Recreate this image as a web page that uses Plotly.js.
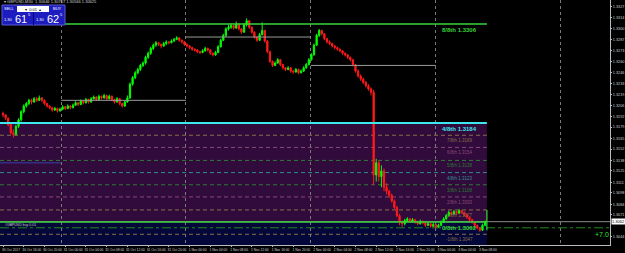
<!DOCTYPE html>
<html><head><meta charset="utf-8">
<script src="https://cdn.plot.ly/plotly-3.0.1.min.js"></script>
<style>html,body{margin:0;padding:0;background:#000;}#c{width:625px;height:253px;}</style>
</head><body><div id="c"></div>
<script>
const barOpen=[1.3196,1.3194,1.3190,1.3182,1.3172,1.3170,1.3180,1.3188,1.3198,1.3205,
1.3208,1.3212,1.3210,1.3214,1.3212,1.3215,1.3212,1.3208,1.3205,1.3203,
1.3200,1.3202,1.3199,1.3201,1.3204,1.3202,1.3205,1.3203,1.3206,1.3209,
1.3207,1.3211,1.3209,1.3213,1.3210,1.3214,1.3216,1.3213,1.3217,1.3215,
1.3218,1.3214,1.3217,1.3213,1.3210,1.3214,1.3208,1.3205,1.3210,1.3215,
1.3232,1.3240,1.3246,1.3250,1.3255,1.3258,1.3265,1.3270,1.3276,1.3280,
1.3283,1.3281,1.3279,1.3282,1.3284,1.3283,1.3285,1.3287,1.3289,1.3286,
1.3284,1.3281,1.3279,1.3277,1.3275,1.3274,1.3272,1.3271,1.3273,1.3276,
1.3274,1.3270,1.3268,1.3271,1.3278,1.3286,1.3292,1.3300,1.3302,1.3304,
1.3301,1.3306,1.3300,1.3296,1.3305,1.3310,1.3302,1.3296,1.3290,1.3286,
1.3293,1.3298,1.3285,1.3272,1.3260,1.3255,1.3258,1.3262,1.3256,1.3252,
1.3250,1.3252,1.3248,1.3247,1.3250,1.3246,1.3248,1.3252,1.3256,1.3262,
1.3268,1.3280,1.3292,1.3298,1.3294,1.3288,1.3284,1.3282,1.3279,1.3277,
1.3275,1.3273,1.3270,1.3268,1.3265,1.3262,1.3256,1.3248,1.3242,1.3238,
1.3234,1.3230,1.3226,1.3222,1.3120,1.3135,1.3118,1.3125,1.3105,1.3100,
1.3095,1.3088,1.3080,1.3070,1.3062,1.3060,1.3064,1.3066,1.3063,1.3065,
1.3062,1.3060,1.3063,1.3061,1.3058,1.3060,1.3057,1.3059,1.3056,1.3058,
1.3062,1.3066,1.3070,1.3074,1.3072,1.3075,1.3073,1.3076,1.3074,1.3071,
1.3068,1.3065,1.3062,1.3058,1.3055,1.3052,1.3058];
const barHigh=[1.3198,1.3195,1.3191,1.3184,1.3176,1.3182,1.3190,1.3200,1.3207,1.3210,
1.3214,1.3214,1.3216,1.3216,1.3218,1.3216,1.3213,1.3209,1.3206,1.3204,
1.3204,1.3203,1.3203,1.3206,1.3205,1.3207,1.3206,1.3208,1.3211,1.3210,
1.3213,1.3212,1.3215,1.3214,1.3216,1.3218,1.3217,1.3219,1.3218,1.3220,
1.3219,1.3219,1.3218,1.3214,1.3216,1.3215,1.3209,1.3212,1.3218,1.3234,
1.3242,1.3248,1.3252,1.3257,1.3260,1.3267,1.3272,1.3278,1.3282,1.3285,
1.3284,1.3282,1.3284,1.3286,1.3285,1.3287,1.3289,1.3291,1.3290,1.3287,
1.3285,1.3282,1.3280,1.3278,1.3276,1.3275,1.3273,1.3275,1.3278,1.3277,
1.3275,1.3271,1.3273,1.3280,1.3288,1.3294,1.3302,1.3305,1.3307,1.3305,
1.3309,1.3307,1.3301,1.3307,1.3313,1.3311,1.3303,1.3297,1.3291,1.3295,
1.3308,1.3299,1.3286,1.3273,1.3261,1.3260,1.3264,1.3263,1.3257,1.3253,
1.3254,1.3253,1.3249,1.3252,1.3251,1.3250,1.3254,1.3258,1.3264,1.3270,
1.3282,1.3294,1.3300,1.3299,1.3295,1.3289,1.3286,1.3283,1.3280,1.3278,
1.3276,1.3274,1.3271,1.3269,1.3266,1.3263,1.3257,1.3250,1.3244,1.3240,
1.3236,1.3232,1.3228,1.3225,1.3140,1.3138,1.3132,1.3128,1.3110,1.3102,
1.3097,1.3090,1.3082,1.3072,1.3064,1.3066,1.3068,1.3067,1.3067,1.3066,
1.3063,1.3065,1.3064,1.3062,1.3062,1.3061,1.3061,1.3060,1.3060,1.3064,
1.3068,1.3072,1.3076,1.3075,1.3077,1.3076,1.3078,1.3077,1.3075,1.3072,
1.3069,1.3066,1.3063,1.3059,1.3056,1.3060,1.3064];
const barLow=[1.3191,1.3188,1.3180,1.3170,1.3166,1.3169,1.3178,1.3186,1.3196,1.3203,
1.3206,1.3207,1.3209,1.3210,1.3211,1.3210,1.3206,1.3203,1.3201,1.3198,
1.3199,1.3197,1.3198,1.3200,1.3200,1.3201,1.3201,1.3202,1.3205,1.3205,
1.3206,1.3207,1.3208,1.3208,1.3209,1.3213,1.3211,1.3212,1.3213,1.3214,
1.3212,1.3213,1.3211,1.3208,1.3209,1.3206,1.3203,1.3204,1.3209,1.3214,
1.3230,1.3238,1.3244,1.3248,1.3253,1.3256,1.3263,1.3268,1.3274,1.3278,
1.3279,1.3276,1.3278,1.3280,1.3281,1.3282,1.3284,1.3286,1.3284,1.3282,
1.3279,1.3277,1.3275,1.3273,1.3272,1.3270,1.3269,1.3270,1.3272,1.3272,
1.3268,1.3266,1.3267,1.3270,1.3277,1.3285,1.3290,1.3298,1.3300,1.3299,
1.3300,1.3298,1.3294,1.3295,1.3303,1.3300,1.3294,1.3288,1.3284,1.3285,
1.3292,1.3283,1.3270,1.3258,1.3253,1.3254,1.3257,1.3254,1.3250,1.3248,
1.3249,1.3246,1.3245,1.3246,1.3244,1.3245,1.3247,1.3251,1.3255,1.3261,
1.3267,1.3279,1.3290,1.3292,1.3286,1.3282,1.3280,1.3277,1.3275,1.3273,
1.3271,1.3268,1.3266,1.3263,1.3260,1.3254,1.3246,1.3240,1.3236,1.3232,
1.3228,1.3224,1.3218,1.3108,1.3112,1.3112,1.3105,1.3100,1.3096,1.3092,
1.3086,1.3078,1.3068,1.3058,1.3056,1.3058,1.3062,1.3061,1.3062,1.3060,
1.3058,1.3059,1.3059,1.3056,1.3057,1.3055,1.3056,1.3054,1.3055,1.3057,
1.3061,1.3065,1.3069,1.3070,1.3071,1.3071,1.3072,1.3072,1.3069,1.3066,
1.3063,1.3060,1.3056,1.3053,1.3050,1.3051,1.3057];
const barClose=[1.3194,1.3190,1.3182,1.3172,1.3170,1.3180,1.3188,1.3198,1.3205,1.3208,
1.3212,1.3210,1.3214,1.3212,1.3215,1.3212,1.3208,1.3205,1.3203,1.3200,
1.3202,1.3199,1.3201,1.3204,1.3202,1.3205,1.3203,1.3206,1.3209,1.3207,
1.3211,1.3209,1.3213,1.3210,1.3214,1.3216,1.3213,1.3217,1.3215,1.3218,
1.3214,1.3217,1.3213,1.3210,1.3214,1.3208,1.3205,1.3210,1.3215,1.3232,
1.3240,1.3246,1.3250,1.3255,1.3258,1.3265,1.3270,1.3276,1.3280,1.3283,
1.3281,1.3279,1.3282,1.3284,1.3283,1.3285,1.3287,1.3289,1.3286,1.3284,
1.3281,1.3279,1.3277,1.3275,1.3274,1.3272,1.3271,1.3273,1.3276,1.3274,
1.3270,1.3268,1.3271,1.3278,1.3286,1.3292,1.3300,1.3302,1.3304,1.3301,
1.3306,1.3300,1.3296,1.3305,1.3310,1.3302,1.3296,1.3290,1.3286,1.3293,
1.3298,1.3285,1.3272,1.3260,1.3255,1.3258,1.3262,1.3256,1.3252,1.3250,
1.3252,1.3248,1.3247,1.3250,1.3246,1.3248,1.3252,1.3256,1.3262,1.3268,
1.3280,1.3292,1.3298,1.3294,1.3288,1.3284,1.3282,1.3279,1.3277,1.3275,
1.3273,1.3270,1.3268,1.3265,1.3262,1.3256,1.3248,1.3242,1.3238,1.3234,
1.3230,1.3226,1.3222,1.3120,1.3135,1.3118,1.3125,1.3105,1.3100,1.3095,
1.3088,1.3080,1.3070,1.3062,1.3060,1.3064,1.3066,1.3063,1.3065,1.3062,
1.3060,1.3063,1.3061,1.3058,1.3060,1.3057,1.3059,1.3056,1.3058,1.3062,
1.3066,1.3070,1.3074,1.3072,1.3075,1.3073,1.3076,1.3074,1.3071,1.3068,
1.3065,1.3062,1.3058,1.3055,1.3052,1.3058,1.3062];

const timeLabels=["30 Oct 2017","30 Oct 16:00","30 Oct 20:00","31 Oct 00:00","31 Oct 04:00","31 Oct 08:00","31 Oct 12:00","31 Oct 16:00","31 Oct 20:00",
"1 Nov 00:00","1 Nov 04:00","1 Nov 08:00","1 Nov 12:00","1 Nov 16:00","1 Nov 20:00",
"2 Nov 00:00","2 Nov 04:00","2 Nov 08:00","2 Nov 12:00","2 Nov 16:00","2 Nov 20:00",
"3 Nov 00:00","3 Nov 04:00","3 Nov 08:00"];
const barsPerLabel=8;
const priceTicks=[1.3327,1.3314,1.3300,1.3287,1.3273,1.3260,1.3246,1.3233,1.3219,1.3206,1.3192,1.3179,1.3165,1.3152,1.3138,1.3125,1.3111,1.3098,1.3084,1.3071,1.3044,1.3030];
const priceTickText=["1.3327","1.3314","1.3300","1.3287","1.3273","1.3260","1.3246","1.3233","1.3219","1.3206","1.3192","1.3179","1.3165","1.3152","1.3138","1.3125","1.3111","1.3098","1.3084","1.3071","1.3044","1.3030"];

const octaveLevels=[1.3306,1.3184,1.3062];
const octaveLabels=["8/8th 1.3306","4/8th 1.3184","0/8th 1.3062"];
const octaveColors=["#3ad23a","#3ee6ee","#3ad23a"];
const subLevels=[1.3169,1.3154,1.3138,1.3123,1.3108,1.3093,1.3077,1.3047];
const subLabels=["7/8th 1.3169","6/8th 1.3154","5/8th 1.3138","4/8th 1.3123","3/8th 1.3108","2/8th 1.3093","1/8th 1.3077","-1/8th 1.3047"];
const subColors=["#8a6f45","#8a4a76","#2f7a35","#2f8f8f","#2f7a35","#8a4a76","#8a6f45","#8a6f45"];
const dayStart=[-1.16,22.4,70.6,118.8];
const dayEnd=[22.4,70.6,118.8,167.0];
const dayLevel=[1.3135,1.3212,1.3290,1.3255];
const dayColor=["#3b3fa8","#9a9a9a","#9a9a9a","#9a9a9a"];
const orderPrice=1.3055, bidPrice=1.30625, profitText="+7.0";
const bidText="1.3062";
const fibEnd=186.7, xLo=-1.16, xHi=234.2, yLo=1.30338, yHi=1.33356;

const idx=barClose.map((_,i)=>i);
const tickIdx=timeLabels.map((_,k)=>k*barsPerLabel);

const traces=[{
  type:'candlestick', x:idx, open:barOpen, high:barHigh, low:barLow, close:barClose,
  increasing:{line:{color:'#00ff00',width:1},fillcolor:'#00ff00'},
  decreasing:{line:{color:'#ff1a1a',width:1},fillcolor:'#ff1a1a'},
  whiskerwidth:0, hoverinfo:'skip', xaxis:'x', yaxis:'y'
},{
  type:'scatter', mode:'markers', x:[idx[0]], y:[barClose[0]], xaxis:'x2', yaxis:'y',
  marker:{opacity:0}, hoverinfo:'skip'
}];
dayLevel.forEach((lv,k)=>{
  traces.push({type:'scatter',mode:'lines',x:[dayStart[k],dayEnd[k]],y:[lv,lv],
    line:{color:dayColor[k],width:1},hoverinfo:'skip',xaxis:'x',yaxis:'y'});
});

const shapes=[];
shapes.push({type:'rect',xref:'x',yref:'y',x0:xLo,x1:fibEnd,y0:octaveLevels[2],y1:octaveLevels[1],fillcolor:'#300b3c',line:{width:0},layer:'below'});
shapes.push({type:'rect',xref:'x',yref:'y',x0:xLo,x1:fibEnd,y0:yLo,y1:octaveLevels[2],fillcolor:'#03073a',line:{width:0},layer:'below'});
subLevels.forEach((lv,k)=>{
  shapes.push({type:'line',xref:'x',yref:'y',x0:xLo,x1:fibEnd,y0:lv,y1:lv,line:{color:subColors[k],width:1,dash:'4px,3px'},layer:'below'});
});
shapes.push({type:'line',xref:'x',yref:'y',x0:xLo,x1:xHi,y0:orderPrice,y1:orderPrice,line:{color:'#1f8a1f',width:1,dash:'dashdot'},layer:'below'});
shapes.push({type:'line',xref:'x',yref:'y',x0:xLo,x1:xHi,y0:bidPrice,y1:bidPrice,line:{color:'#8c8c8c',width:1},layer:'below'});
shapes.push({type:'line',xref:'x',yref:'y',x0:22.4,x1:fibEnd,y0:octaveLevels[0],y1:octaveLevels[0],line:{color:octaveColors[0],width:1.5}});
shapes.push({type:'line',xref:'x',yref:'y',x0:xLo,x1:fibEnd,y0:octaveLevels[1],y1:octaveLevels[1],line:{color:octaveColors[1],width:2}});
shapes.push({type:'line',xref:'x',yref:'y',x0:xLo,x1:fibEnd,y0:octaveLevels[2],y1:octaveLevels[2],line:{color:octaveColors[2],width:1.5}});
shapes.push({type:'line',xref:'x',yref:'y',x0:fibEnd,x1:fibEnd,y0:1.3052,y1:1.3077,line:{color:'#33dd33',width:1.2}});

const PW=610, PH=245;
const px=v=>v/PW, py=v=>1-v/PH;
shapes.push({type:'rect',xref:'paper',yref:'paper',x0:px(2),x1:px(65),y0:py(25),y1:py(5),fillcolor:'#1c1cc0',line:{color:'#5a5ad8',width:1}});
shapes.push({type:'rect',xref:'paper',yref:'paper',x0:px(17),x1:px(49),y0:py(12),y1:py(6),fillcolor:'#ffffff',line:{width:0}});
shapes.push({type:'line',xref:'paper',yref:'paper',x0:px(33.5),x1:px(33.5),y0:py(25),y1:py(12),line:{color:'#000080',width:1}});

const F='Liberation Sans, Arial';
const ann=[];
const T=(o)=>ann.push(Object.assign({showarrow:false,xanchor:'center',yanchor:'middle'},o));
octaveLevels.forEach((lv,k)=>{
  T({xref:'x',yref:'y',x:176.3,y:lv,yanchor:'top',yshift:-1,text:'<b>'+octaveLabels[k]+'</b>',font:{family:F,size:6,color:octaveColors[k]}});
});
subLevels.forEach((lv,k)=>{
  T({xref:'x',yref:'y',x:176.3,y:lv,yanchor:'top',yshift:-1,text:subLabels[k],font:{family:F,size:4.5,color:subColors[k]}});
});
T({xref:'paper',yref:'y',x:1,xanchor:'left',xshift:1,y:bidPrice,text:bidText,bgcolor:'#ffffff',borderpad:0,font:{family:F,size:4,color:'#000'}});
T({xref:'x',yref:'y',x:231,y:1.3047,text:profitText,font:{family:F,size:7,color:'#2ee02e'}});
T({xref:'paper',yref:'paper',x:px(2),y:py(2),xanchor:'left',text:'▾ GBPUSD,M30  1.30646 1.30707 1.30566 1.30625',font:{family:F,size:4,color:'#d0d0d0'}});
T({xref:'paper',yref:'paper',x:px(9),y:py(8.7),text:'SELL',font:{family:F,size:4,color:'#fff'}});
T({xref:'paper',yref:'paper',x:px(57),y:py(8.7),text:'BUY',font:{family:F,size:4,color:'#fff'}});
T({xref:'paper',yref:'paper',x:px(33),y:py(9),text:'▾  0.01  ▴',font:{family:F,size:4,color:'#000'}});
T({xref:'paper',yref:'paper',x:px(8),y:py(20),text:'1.30',font:{family:F,size:4,color:'#fff'}});
T({xref:'paper',yref:'paper',x:px(21),y:py(18.5),text:'61',font:{family:F,size:11,color:'#fff'}});
T({xref:'paper',yref:'paper',x:px(29.5),y:py(15),text:'5',font:{family:F,size:4,color:'#fff'}});
T({xref:'paper',yref:'paper',x:px(40),y:py(20),text:'1.30',font:{family:F,size:4,color:'#fff'}});
T({xref:'paper',yref:'paper',x:px(53),y:py(18.5),text:'62',font:{family:F,size:11,color:'#fff'}});
T({xref:'paper',yref:'paper',x:px(61.5),y:py(15),text:'5',font:{family:F,size:4,color:'#fff'}});
T({xref:'paper',yref:'y',x:px(3),xanchor:'left',y:1.3059,text:'#GBPUSD buy 0.01',font:{family:F,size:3.5,color:'#c8c8c8'}});

const layout={
  width:625,height:253,margin:{l:0,r:15,t:0,b:8},
  paper_bgcolor:'#000',plot_bgcolor:'#000',showlegend:false,
  font:{family:F,color:'#cccccc'},
  xaxis:{range:[xLo,xHi],tick0:22.4,dtick:48.2,showgrid:true,gridcolor:'#7a7a7a',griddash:'dot',gridwidth:1,
    showticklabels:false,ticks:'',zeroline:false,showline:true,linecolor:'#bbbbbb',rangeslider:{visible:false},fixedrange:true},
  xaxis2:{overlaying:'x',anchor:'y',side:'bottom',range:[xLo,xHi],tickmode:'array',tickvals:tickIdx,ticktext:timeLabels,tickangle:0,
    showgrid:false,zeroline:false,ticks:'outside',ticklen:1,tickcolor:'#bbbbbb',ticklabelshift:8,ticklabelstandoff:0,
    tickfont:{family:F,size:3.3,color:'#d0d0d0'},fixedrange:true},
  yaxis:{side:'right',range:[yLo,yHi],tickmode:'array',tickvals:priceTicks,ticktext:priceTickText,
    showgrid:false,zeroline:false,showline:true,linecolor:'#bbbbbb',ticks:'outside',ticklen:1,tickcolor:'#bbbbbb',ticklabelstandoff:0,
    tickfont:{family:F,size:3.8,color:'#d0d0d0'},fixedrange:true},
  shapes:shapes,annotations:ann
};
Plotly.newPlot('c',traces,layout,{staticPlot:true,displayModeBar:false});
</script></body></html>
